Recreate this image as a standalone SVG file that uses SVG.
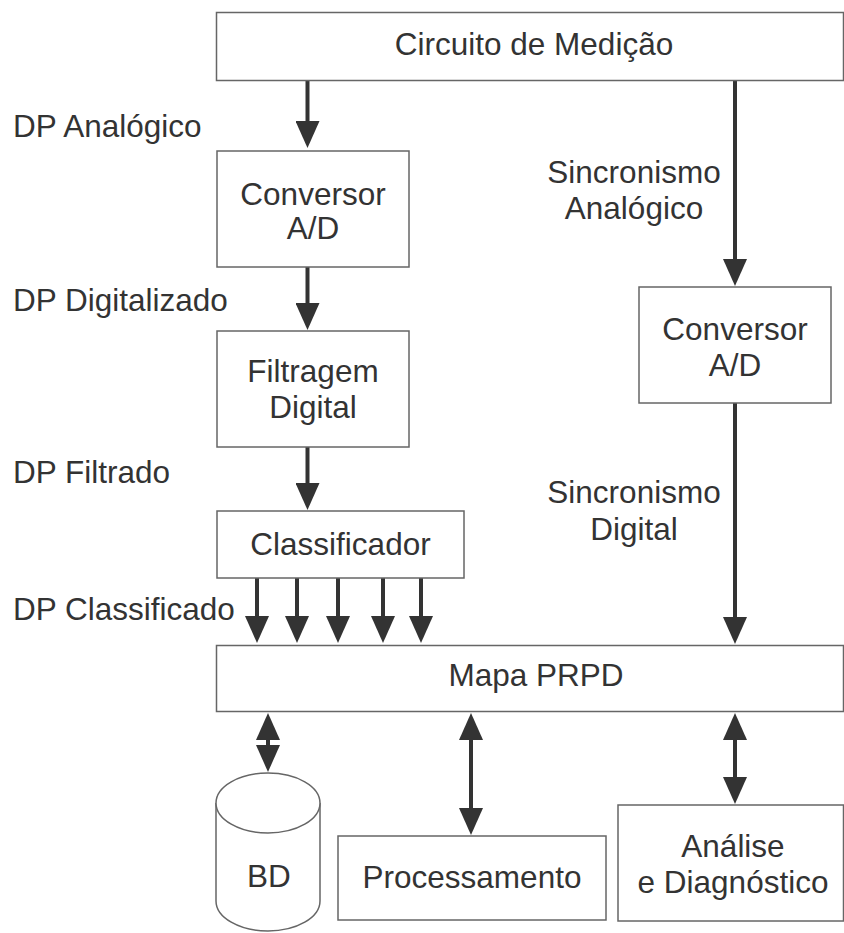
<svg xmlns="http://www.w3.org/2000/svg" width="844" height="933" viewBox="0 0 844 933">
<defs>
<style>
.box{fill:#fff;stroke:#666;stroke-width:1.5}
.t{font-family:"Liberation Sans",Arial,Helvetica,sans-serif;font-size:31.5px;fill:#333}
.c{text-anchor:middle}
.ln{stroke:#333;stroke-width:4;fill:none}
</style>
<marker id="ah" markerUnits="userSpaceOnUse" markerWidth="27" markerHeight="24" viewBox="0 0 27 24" refX="17" refY="12" orient="auto-start-reverse">
<path d="M0,0 L27,12 L0,24 z" fill="#333"/>
</marker>
</defs>
<rect width="844" height="933" fill="#fff"/>
<g id="connectors">
<line class="ln" x1="307.5" y1="81" x2="307.5" y2="138" marker-end="url(#ah)"/>
<line class="ln" x1="307.5" y1="267" x2="307.5" y2="320" marker-end="url(#ah)"/>
<line class="ln" x1="307.5" y1="447" x2="307.5" y2="500" marker-end="url(#ah)"/>
<line class="ln" x1="257" y1="578" x2="257" y2="633" marker-end="url(#ah)"/>
<line class="ln" x1="297" y1="578" x2="297" y2="633" marker-end="url(#ah)"/>
<line class="ln" x1="338" y1="578" x2="338" y2="633" marker-end="url(#ah)"/>
<line class="ln" x1="383" y1="578" x2="383" y2="633" marker-end="url(#ah)"/>
<line class="ln" x1="421" y1="578" x2="421" y2="633" marker-end="url(#ah)"/>
<line class="ln" x1="735" y1="81" x2="735" y2="276" marker-end="url(#ah)"/>
<line class="ln" x1="735" y1="403" x2="735" y2="634" marker-end="url(#ah)"/>
<line class="ln" x1="268" y1="723" x2="268" y2="762" marker-start="url(#ah)" marker-end="url(#ah)"/>
<line class="ln" x1="471" y1="723" x2="471" y2="825" marker-start="url(#ah)" marker-end="url(#ah)"/>
<line class="ln" x1="735" y1="723" x2="735" y2="794" marker-start="url(#ah)" marker-end="url(#ah)"/>
</g>
<g id="circuito">
<rect class="box" x="216.5" y="12.5" width="627" height="68"/>
<text class="t c" x="534" y="55">Circuito de Medição</text>
</g>
<g id="conversor1">
<rect class="box" x="217" y="151" width="192" height="116"/>
<text class="t c" x="313" y="205">Conversor</text>
<text class="t c" x="313" y="239">A/D</text>
</g>
<g id="filtragem">
<rect class="box" x="217" y="331" width="192" height="116"/>
<text class="t c" x="313" y="382">Filtragem</text>
<text class="t c" x="313" y="418">Digital</text>
</g>
<g id="classificador">
<rect class="box" x="217" y="511" width="247" height="67"/>
<text class="t c" x="340.5" y="555">Classificador</text>
</g>
<g id="conversor2">
<rect class="box" x="639" y="287" width="192" height="116"/>
<text class="t c" x="735" y="340">Conversor</text>
<text class="t c" x="735" y="376">A/D</text>
</g>
<g id="mapa">
<rect class="box" x="216.5" y="645.5" width="627" height="66"/>
<text class="t c" x="536" y="686">Mapa PRPD</text>
</g>
<g id="bd">
<path class="box" d="M216,803 L216,901 A52,30 0 0 0 320,901 L320,803"/>
<ellipse class="box" cx="268" cy="803" rx="52" ry="30"/>
<text class="t c" x="269" y="887">BD</text>
</g>
<g id="processamento">
<rect class="box" x="338" y="836" width="268" height="84"/>
<text class="t c" x="472" y="888">Processamento</text>
</g>
<g id="analise">
<rect class="box" x="618" y="805" width="225.5" height="116"/>
<text class="t c" x="733" y="857">Análise</text>
<text class="t c" x="733" y="893">e Diagnóstico</text>
</g>
<g id="labels">
<text class="t" x="13" y="137">DP Analógico</text>
<text class="t" x="13" y="311">DP Digitalizado</text>
<text class="t" x="13" y="483">DP Filtrado</text>
<text class="t" x="13" y="620">DP Classificado</text>
<text class="t c" x="634" y="183">Sincronismo</text>
<text class="t c" x="634" y="219">Analógico</text>
<text class="t c" x="634" y="503">Sincronismo</text>
<text class="t c" x="634" y="540">Digital</text>
</g>
</svg>
